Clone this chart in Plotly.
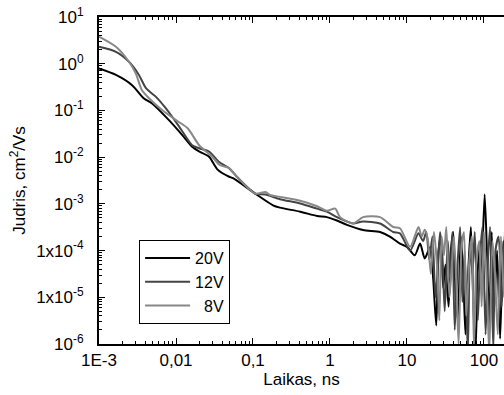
import plotly.graph_objects as go

# ---- data ----
t_20V = [0.001, 0.00166, 0.00269, 0.0038, 0.0049, 0.0081, 0.012, 0.0162, 0.020, 0.0269,
         0.0347, 0.049, 0.055, 0.107, 0.182, 0.224, 0.41, 0.68, 0.91, 1.23, 1.66, 2.69,
         4.47, 6.0, 8.1, 10.0, 12.6, 14.8, 17.0, 20.0, 21.9, 24.0, 25.7, 27.5, 29.5, 31.6,
         34.7, 37.2, 39.8, 42.7, 45.7, 50.1, 53.7, 57.5, 63.1, 67.6, 72.4, 77.6, 85.1,
         91.2, 102, 110, 117, 126, 135, 148, 162, 178, 195]
mu_20V = [0.79, 0.575, 0.347, 0.182, 0.141, 0.062, 0.030, 0.0166, 0.0132, 0.0102,
          0.0054, 0.0038, 0.00355, 0.00166, 0.00093, 0.00083, 0.00068, 0.00055, 0.00052,
          0.00044, 0.000355, 0.000275, 0.00025, 0.0002, 0.000141, 0.00012, 7.9e-5,
          0.000141, 6.8e-5, 0.00012, 2.5e-5, 2.5e-6, 1.0e-4, 2.0e-4, 1.6e-5, 5.0e-5,
          6.3e-6, 1.0e-4, 2.5e-4, 1.3e-5, 3.2e-6, 2.0e-4, 3.2e-5, 1.6e-6, 5.0e-5, 3.2e-4,
          1.0e-5, 6.3e-7, 1.3e-4, 1.6e-5, 1.6e-3, 6.3e-5, 2.5e-6, 2.5e-4, 5.0e-6, 1.0e-4,
          1.3e-6, 1.6e-4, 3.2e-5]

t_12V = [0.001, 0.00166, 0.00245, 0.0033, 0.0041, 0.0055, 0.0074, 0.011, 0.0162, 0.020,
         0.0269, 0.0363, 0.049, 0.0617, 0.107, 0.145, 0.224, 0.41, 0.68, 0.91, 1.23, 1.66,
         2.0, 2.69, 4.47, 6.6, 8.1, 11.0, 14.1, 16.2, 17.8, 19.5, 21.4, 23.4, 25.1, 26.9,
         28.8, 30.9, 33.9, 36.3, 38.9, 41.7, 45.7, 49.0, 52.5, 56.2, 61.7, 66.1, 70.8,
         75.9, 83.2, 89.1, 95.5, 105, 112, 120, 132, 141, 155, 170, 186, 200]
mu_12V = [2.3, 1.8, 1.1, 0.575, 0.295, 0.195, 0.11, 0.045, 0.018, 0.0155, 0.0132, 0.0079,
          0.0058, 0.0038, 0.00166, 0.00158, 0.00126, 0.00102, 0.00079, 0.00068, 0.00052,
          0.00042, 0.00038, 0.00042, 0.00038, 0.00025, 0.000234, 0.0001, 0.000234,
          1.6e-4, 2.5e-4, 6.3e-5, 2.0e-4, 1.0e-5, 4.0e-5, 2.5e-4, 7.9e-5, 5.0e-6, 1.6e-4,
          2.5e-5, 2.5e-4, 2.0e-6, 6.3e-5, 3.2e-4, 7.9e-6, 1.0e-4, 6.3e-7, 1.6e-4, 3.2e-5,
          2.5e-4, 3.2e-6, 7.9e-5, 3.2e-4, 1.6e-6, 5.0e-5, 3.2e-4, 7.9e-7, 1.0e-4, 2.0e-4,
          6.3e-6, 2.5e-4, 1.0e-6]

t_8V = [0.001, 0.00166, 0.00245, 0.003, 0.0036, 0.0045, 0.0066, 0.010, 0.0141, 0.020,
        0.0295, 0.037, 0.049, 0.0617, 0.107, 0.145, 0.166, 0.224, 0.41, 0.68, 0.91, 1.17,
        1.35, 2.0, 2.69, 4.47, 6.6, 8.1, 11.0, 14.1, 15.5, 17.0, 18.6, 20.4, 22.4, 24.5,
        26.3, 28.2, 30.2, 32.4, 35.5, 38.0, 40.7, 43.7, 46.8, 51.3, 55.0, 58.9, 64.6,
        69.2, 74.1, 79.4, 87.1, 93.3, 100, 110, 117, 129, 138, 151, 166, 182, 200]
mu_8V = [3.8, 2.3, 1.1, 0.62, 0.275, 0.18, 0.102, 0.062, 0.042, 0.018, 0.0102, 0.0068,
         0.0058, 0.0038, 0.00166, 0.0018, 0.00155, 0.00141, 0.00117, 0.00089, 0.00071,
         0.00079, 0.00052, 0.00038, 0.00052, 0.00052, 0.00032, 0.0003, 0.00012, 0.00032,
         2.0e-4, 2.8e-4, 1.8e-4, 3.2e-5, 2.5e-4, 5.0e-5, 3.2e-6, 2.0e-4, 7.9e-5, 3.2e-4,
         1.0e-5, 4.0e-5, 2.0e-4, 2.0e-5, 1.0e-6, 1.3e-4, 2.5e-4, 4.0e-6, 6.3e-5, 2.0e-4,
         7.9e-7, 5.0e-5, 1.6e-4, 6.3e-6, 2.5e-4, 1.3e-5, 6.3e-7, 1.6e-4, 4.0e-5, 1.6e-6,
         2.0e-4, 1.0e-5, 1.3e-4]

series_names = ["20V", "12V", "\u00a0\u00a08V"]
series_colors = ["#000000", "#444444", "#888888"]

x_tickvals = [0.001, 0.01, 0.1, 1, 10, 100]
x_ticktext = ["1E-3", "0,01", "0,1", "1", "10", "100"]
y_tickvals = [10, 1, 0.1, 0.01, 0.001, 1e-4, 1e-5, 1e-6]
y_ticktext = ["10<sup>1</sup>", "10<sup>0</sup>", "10<sup>-1</sup>", "10<sup>-2</sup>",
              "10<sup>-3</sup>", "1x10<sup>-4</sup>", "1x10<sup>-5</sup>", "10<sup>-6</sup>"]

FONT = "Liberation Sans"

fig = go.Figure()
for t, mu, name, col in zip([t_20V, t_12V, t_8V], [mu_20V, mu_12V, mu_8V],
                            series_names, series_colors):
    fig.add_trace(go.Scatter(x=t, y=mu, mode="lines", name=name,
                             line=dict(color=col, width=2, shape="spline", smoothing=0.7)))

fig.update_layout(
    template="none",
    width=504, height=395,
    margin=dict(l=99, r=0, t=17, b=51),
    paper_bgcolor="white", plot_bgcolor="white",
    font=dict(family=FONT, size=17, color="black"),
    showlegend=True,
    legend=dict(x=0.099, y=0.318, xanchor="left", yanchor="top",
                bordercolor="black", borderwidth=1, bgcolor="white",
                font=dict(family=FONT, size=16), tracegroupgap=0, itemwidth=45),
)
fig.update_xaxes(
    type="log", range=[-3, 2.26],
    tickmode="array", tickvals=x_tickvals, ticktext=x_ticktext,
    ticks="inside", ticklen=6, tickwidth=1, tickcolor="black",
    minor=dict(ticks="inside", ticklen=3, tickwidth=1, tickcolor="black", dtick="D1"),
    showline=True, linecolor="black", linewidth=2, mirror="ticks",
    showgrid=False, zeroline=False,
    title=dict(text="Laikas, ns", standoff=4, font=dict(family=FONT, size=17)),
    tickfont=dict(family=FONT, size=17),
)
fig.update_yaxes(
    type="log", range=[-6, 1],
    tickmode="array", tickvals=y_tickvals, ticktext=y_ticktext,
    ticks="inside", ticklen=6, tickwidth=1, tickcolor="black",
    minor=dict(ticks="inside", ticklen=3, tickwidth=1, tickcolor="black", dtick="D1"),
    showline=True, linecolor="black", linewidth=2, mirror=False,
    showgrid=False, zeroline=False,
    title=dict(text="Judris, cm<sup>2</sup>/Vs", standoff=6, font=dict(family=FONT, size=17)),
    tickfont=dict(family=FONT, size=17),
    ticklabelstandoff=10,
)

fig.write_html("out.html")
